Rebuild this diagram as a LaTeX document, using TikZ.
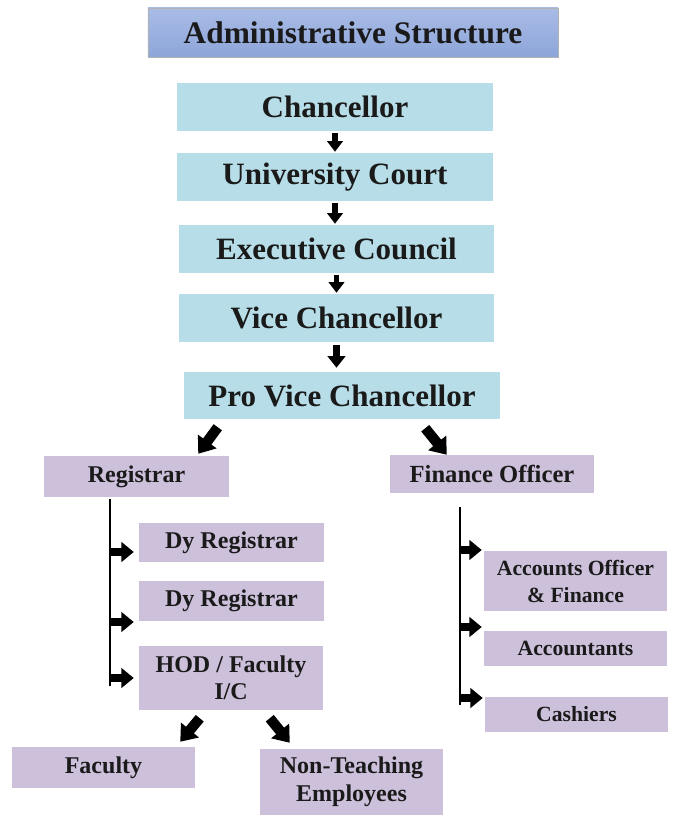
\documentclass[tikz,border=0pt]{standalone}
\usepackage{fontspec}
\setmainfont{Liberation Serif}
\usetikzlibrary{arrows.meta, positioning, calc}
\definecolor{cblue}{HTML}{B7DEE8}
\definecolor{clav}{HTML}{CCC0DA}
\definecolor{ctop}{HTML}{A9BCE6}
\definecolor{cbot}{HTML}{8DA5D9}
\definecolor{cink}{HTML}{1A1A1A}
\tikzset{
  every picture/.style={x=0.03cm, y=-0.03cm},
  box/.style={fill=#1, inner sep=0pt, align=center, text=cink},
  box/.default=clav,
  title/.style={box=ctop, top color=ctop, bottom color=cbot, draw=gray!60, line width=0.8pt,
    minimum width=12.3cm, minimum height=1.47cm, font=\fontsize{26.8}{30}\selectfont\bfseries},
  big/.style={box=cblue, minimum width=9.48cm, minimum height=1.44cm, font=\fontsize{26.5}{30}\selectfont\bfseries},
  mid/.style={box, minimum width=5.55cm, font=\fontsize{20.5}{23.5}\selectfont\bfseries},
  small/.style={box, minimum width=5.49cm, font=\fontsize{18.5}{23}\selectfont\bfseries},
  vstep/.style={-{Triangle[width=13pt,length=9pt]}, line width=4.6pt},
  vbig/.style={-{Triangle[width=15pt,length=10pt]}, line width=6.2pt},
  diag/.style={-{Triangle[width=19pt,length=13pt]}, line width=8.8pt},
  side/.style={-{Triangle[width=16.5pt,length=10.5pt]}, line width=6.8pt},
  branch/.style={line width=1.3pt},
}
\begin{document}
\begin{tikzpicture}
  \fill[white] (0,0) rectangle (679,821);
  % top chain
  \node[title] (title) at (353,32.5) {Administrative Structure};
  \node[big] (chan) at (335,107) {Chancellor};
  \node[big] (court) at (335,177) {University Court};
  \node[big, minimum width=9.45cm] (exec) at (336.5,249) {Executive Council};
  \node[big, minimum width=9.45cm] (vc) at (336.5,318) {Vice Chancellor};
  \node[big, minimum height=1.41cm] (pvc) at (342,395.5) {Pro Vice Chancellor};
  \foreach \a/\b in {chan/court, court/exec, exec/vc}
    \draw[vstep, shorten <=0.06cm, shorten >=0.03cm] (\a.south) -- (\a.south |- \b.north);
  \draw[vbig, shorten <=0.09cm, shorten >=0.12cm] (vc.south) -- (vc.south |- pvc.north);
  % second level
  \node[mid, minimum height=1.23cm] (reg) at (136.5,476.5) {Registrar};
  \node[mid, minimum width=6.12cm, minimum height=1.14cm, font=\fontsize{21}{24}\selectfont\bfseries] (fin) at (492,474) {Finance Officer};
  \draw[diag] ($(pvc.south west)+(34,8)$) -- ($(reg.north east)+(-31,-2)$);
  \draw[diag] ($(pvc.south east)+(-75,9)$) -- ($(fin.north west)+(57,0)$);
  % registrar branch
  \node[mid, minimum height=1.17cm] (dy1) at (231.5,542.5) {Dy Registrar};
  \node[mid, minimum height=1.2cm] (dy2) at (231.5,601) {Dy Registrar};
  \node[mid, minimum width=5.52cm, minimum height=1.92cm] (hod) at (231,678) {HOD / Faculty\\I/C};
  \coordinate (rtop) at (110,499);
  \coordinate (rbot) at (110,686);
  \draw[branch] (rtop) -- (rbot);
  \foreach \n/\y in {dy1/552, dy2/622, hod/678}
    \draw[side, shorten >=0.15cm] (rtop |- 0,\y) -- (\n.west |- 0,\y);
  % finance branch
  \node[small, minimum height=1.8cm] (acc) at (575.5,581) {Accounts Officer\\\& Finance};
  \node[small, minimum height=1.05cm] (accts) at (575.5,648.5) {Accountants};
  \node[small, minimum height=1.05cm] (cash) at (576.5,714.5) {Cashiers};
  \coordinate (ftop) at (460,507);
  \coordinate (fbot) at (460,705);
  \draw[branch] (ftop) -- (fbot);
  \foreach \n/\y in {acc/550, accts/627, cash/698}
    \draw[side, shorten >=0.06cm] (ftop |- 0,\y) -- (\n.west |- 0,\y);
  % faculty level
  \node[mid, minimum width=5.49cm, minimum height=1.23cm] (fac) at (103.5,767.5) {Faculty};
  \node[mid, minimum width=5.49cm, minimum height=1.98cm] (nont) at (351.5,782) {Non-Teaching\\Employees};
  \draw[diag] ($(hod.south west)+(61,8)$) -- ($(fac.north east)+(-15,-5)$);
  \draw[diag] ($(hod.south west)+(131,8)$) -- ($(nont.north west)+(30,-6)$);
\end{tikzpicture}
\end{document}
